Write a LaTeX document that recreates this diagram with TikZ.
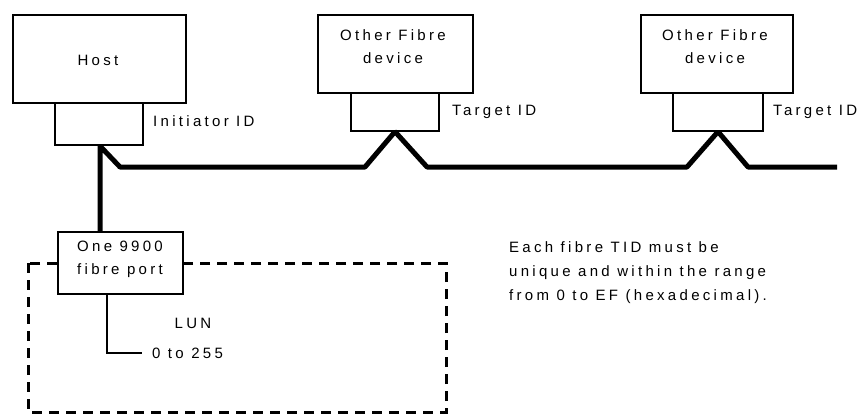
\documentclass[tikz,border=0pt]{standalone}
\usepackage{fontspec}
\setmainfont{Liberation Sans}[LetterSpace=22]
\begin{document}
\begin{tikzpicture}[x=1pt,y=-1pt,
  box/.style={draw,line width=1.3pt,inner sep=0pt,fill=white},
  txt/.style={font=\fontsize{15}{23}\selectfont,align=center,inner sep=0pt},
  ltxt/.style={font=\fontsize{15}{24}\selectfont,align=left,inner sep=0pt,anchor=west},
  bus/.style={line width=5pt,line join=bevel},
  thin/.style={line width=1.3pt}]
\useasboundingbox (0,0) rectangle (858,415);
% dashed region
\draw[line width=3pt,dash pattern=on 10pt off 7pt] (28,263) rectangle (446,412);
% host
\node[box,minimum width=173,minimum height=88] (host) at (99.5,59) {};
\node[txt] (hosttxt) at (98,60) {Host};
\node[box,minimum width=88,minimum height=42] (hostport) at (99,124) {};
\node[ltxt] (initid) at (153,121) {Initiator ID};
% device 1
\node[box,minimum width=155,minimum height=78] (dev1) at (395.5,54) {};
\node[txt] (dev1txt) at (393,47) {Other Fibre\\device};
\node[box,minimum width=88,minimum height=38] (dev1port) at (395,112) {};
\node[ltxt] (tid1) at (452,112) {Target ID};
% device 2
\node[box,minimum width=152,minimum height=78] (dev2) at (717,54) {};
\node[txt] (dev2txt) at (715,47) {Other Fibre\\device};
\node[box,minimum width=90,minimum height=38] (dev2port) at (718,112) {};
\node[ltxt] (tid2) at (773,112) {Target ID};
% fibre port
\node[box,minimum width=125,minimum height=62] (fport) at (120.5,263) {};
\node[txt] (fporttxt) at (120,259) {One 9900\\fibre port};
% bus coordinates
\coordinate (j0) at (100,146);
\coordinate (j1) at (120,167);
\coordinate (a1) at (365,167);
\coordinate (a2) at (427,167);
\coordinate (b1) at (687,167);
\coordinate (b2) at (748,167);
\coordinate (busend) at (837,167);
\draw[bus] (fport.north -| j0) -- (j0) -- (j1) -- (a1) -- (dev1port.south) -- (a2) -- (b1) -- (dev2port.south) -- (b2) -- (busend);
% LUN
\coordinate (lunc) at (107,353);
\node[ltxt] (lunrange) at (152,353) {0 to 255};
\node[txt] (lun) at (193,323) {LUN};
\draw[thin] (fport.south -| lunc) -- (lunc) -- (142,353);
% note
\node[ltxt,anchor=north west] (note) at (509,241) {Each fibre TID must be\\unique and within the range\\from 0 to EF (hexadecimal).};
\end{tikzpicture}
\end{document}
